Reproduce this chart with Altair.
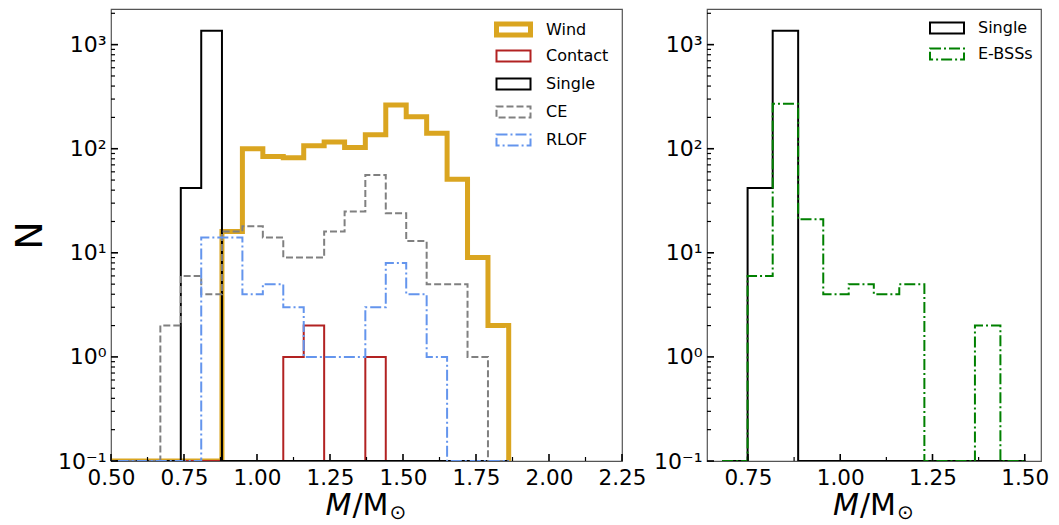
import altair as alt
import pandas as pd

# ---------------- data ----------------
left_edges = [0.458, 0.528, 0.598, 0.669, 0.739, 0.809, 0.880, 0.950, 1.020, 1.090, 1.160,
              1.230, 1.300, 1.371, 1.441, 1.511, 1.581, 1.651, 1.721, 1.791, 1.862]
wind = [0, 0, 0, 0, 0, 0, 16, 100, 84, 82, 107, 116, 103, 136, 263, 203, 141, 51, 9, 2]
contact = [0, 0, 0, 0, 0, 0, 0, 0, 0, 1, 2, 0, 0, 1, 0, 0, 0, 0, 0, 0]
single_left = [0, 0, 0, 0, 42, 1360, 0, 0, 0, 0, 0, 0, 0, 0, 0, 0, 0, 0, 0, 0]
ce = [0, 0, 0, 2, 6, 4, 16, 18, 14, 9, 9, 16, 25, 56, 24, 13, 5, 5, 1, 0]
rlof = [0, 0, 0, 0, 0, 14, 14, 4, 5, 3, 1, 1, 1, 3, 8, 4, 1, 0, 0, 0]

right_edges = [0.680, 0.749, 0.817, 0.886, 0.954, 1.023, 1.091, 1.160, 1.228, 1.297, 1.365, 1.434, 1.502]
single_right = [0, 42, 1360, 0, 0, 0, 0, 0, 0, 0, 0, 0]
ebss = [0, 6, 270, 21, 4, 5, 4, 5, 0, 0, 2, 0]

left_names = ["Wind", "Contact", "Single", "CE", "RLOF"]
right_names = ["Single", "E-BSSs"]

x_major_left = [0.50, 0.75, 1.00, 1.25, 1.50, 1.75, 2.00, 2.25]
x_major_right = [0.75, 1.00, 1.25, 1.50]
y_major = [0.1, 1, 10, 100, 1000]

FLOOR = 0.1


def step_rows(edges, counts, name):
    rows = [{"series": name, "m": edges[0], "n": FLOOR, "o": 0}]
    for i, c in enumerate(counts):
        v = c if c > 0 else FLOOR
        rows.append({"series": name, "m": edges[i], "n": v, "o": 2 * i + 1})
        rows.append({"series": name, "m": edges[i + 1], "n": v, "o": 2 * i + 2})
    rows.append({"series": name, "m": edges[-1], "n": FLOOR, "o": 2 * len(counts) + 1})
    return rows


left_rows = []
for nm, cnt in zip(left_names, [wind, contact, single_left, ce, rlof]):
    left_rows += step_rows(left_edges, cnt, nm)
left_df = pd.DataFrame(left_rows)

right_rows = []
for nm, cnt in zip(right_names, [single_right, ebss]):
    right_rows += step_rows(right_edges, cnt, nm)
right_df = pd.DataFrame(right_rows)

# minor tick values
x_minor_left = [a + 0.125 for a in x_major_left[:-1]]
x_minor_right = [0.875, 1.125, 1.375]
y_minor = [k * d for d in [0.1, 1, 10, 100, 1000] for k in range(2, 10) if k * d <= 2200]

FONT = "DejaVu Sans"
H = 452
W_L = 511
W_R = 334
GAP = 85
Y_DOMAIN = [0.1, 2200]

# wide outline rectangle used as legend symbol (drawn larger than its nominal size)
RECT = "M-2.43,-0.79H2.43V0.79H-2.43Z"

LABEL_EXPR = ("datum.value < 0.5 ? '10⁻¹' : datum.value < 5 ? '10⁰' : "
              "datum.value < 50 ? '10¹' : datum.value < 500 ? '10²' : '10³'")


def panel(df, names, colors, dashes, widths, xdom, xmaj, xmin, width, legend_x, row_pad,
          show_ytitle):
    xs = alt.Scale(domain=xdom, nice=False, zero=False)
    ys = alt.Scale(type="log", domain=Y_DOMAIN, nice=False)
    xax = alt.Axis(values=xmaj, format=".2f", ticks=False, domain=False, grid=False,
                   labelFontSize=21.5, labelPadding=6, labelColor="black",
                   labelFlush=False, title=None)
    yax = alt.Axis(values=y_major, ticks=False, domain=False, grid=False,
                   labelFontSize=22, labelPadding=5, labelColor="black",
                   labelExpr=LABEL_EXPR,
                   title="N" if show_ytitle else None,
                   titleFontSize=38, titleFontWeight="normal", titleColor="black",
                   titlePadding=8)

    lines = alt.Chart(df).mark_line(clip=True, strokeJoin="miter", strokeCap="butt").encode(
        x=alt.X("m:Q", scale=xs, axis=xax),
        y=alt.Y("n:Q", scale=ys, axis=yax),
        color=alt.Color("series:N", scale=alt.Scale(domain=names, range=colors),
                        legend=alt.Legend(title=None, orient="none", legendX=legend_x, legendY=11,
                                          symbolType=RECT, symbolSize=196, labelFontSize=16,
                                          labelOffset=23, rowPadding=row_pad, gridAlign="all",
                                          labelColor="black",
                                          symbolFillColor="transparent", padding=0)),
        strokeDash=alt.StrokeDash("series:N", scale=alt.Scale(domain=names, range=dashes),
                                  legend=alt.Legend(title=None)),
        strokeWidth=alt.StrokeWidth("series:N",
                                    scale=alt.Scale(type="ordinal", domain=names, range=widths),
                                    legend=alt.Legend(title=None)),
        order="o:Q",
    )

    xmaj_df = pd.DataFrame({"m": xmaj})
    xmin_df = pd.DataFrame({"m": xmin})
    ymaj_df = pd.DataFrame({"n": y_major})
    ymin_df = pd.DataFrame({"n": y_minor})

    xt1 = alt.Chart(xmaj_df).mark_rule(color="black", strokeWidth=1.6).encode(
        x=alt.X("m:Q", scale=xs, axis=xax), y=alt.value(H), y2=alt.value(H - 7))
    xt2 = alt.Chart(xmin_df).mark_rule(color="black", strokeWidth=1.2).encode(
        x=alt.X("m:Q", scale=xs, axis=xax), y=alt.value(H), y2=alt.value(H - 4))
    yt1 = alt.Chart(ymaj_df).mark_rule(color="black", strokeWidth=1.6).encode(
        y=alt.Y("n:Q", scale=ys, axis=yax), x=alt.value(0), x2=alt.value(7))
    yt2 = alt.Chart(ymin_df).mark_rule(color="black", strokeWidth=1.2).encode(
        y=alt.Y("n:Q", scale=ys, axis=yax), x=alt.value(0), x2=alt.value(4))

    dummy = pd.DataFrame({"a": [0]})
    cx = width / 2
    t1 = alt.Chart(dummy).mark_text(text="M", font=FONT, fontSize=30, fontStyle="italic",
                                    align="left", baseline="alphabetic", color="black").encode(
        x=alt.value(cx - 41), y=alt.value(H + 54))
    t2 = alt.Chart(dummy).mark_text(text="/M", font=FONT, fontSize=30,
                                    align="left", baseline="alphabetic", color="black").encode(
        x=alt.value(cx - 14), y=alt.value(H + 54))
    t3 = alt.Chart(dummy).mark_text(text="⊙", font=FONT, fontSize=20,
                                    align="left", baseline="alphabetic", color="black").encode(
        x=alt.value(cx + 23), y=alt.value(H + 58))

    return alt.layer(lines, xt1, xt2, yt1, yt2, t1, t2, t3).properties(width=width, height=H)


left = panel(left_df, left_names,
             ["#DAA520", "#B22222", "#000000", "#808080", "#6495ED"],
             [[1, 0], [1, 0], [1, 0], [7, 3], [11, 3, 2, 3]],
             [5, 2, 2, 2, 2],
             [0.5, 2.25], x_major_left, x_minor_left, W_L, 393, 0, True)

right = panel(right_df, right_names,
              ["#000000", "#008000"],
              [[1, 0], [11, 3, 2, 3]],
              [2, 2],
              [0.639, 1.544], x_major_right, x_minor_right, W_R, 232, 6, False)

chart = alt.hconcat(left, right, spacing=GAP, bounds="flush").resolve_scale(
    color="independent", strokeDash="independent", strokeWidth="independent", x="independent",
    y="independent"
).properties(
    padding={"left": 2, "top": 0, "right": 0, "bottom": 0},
).configure(font=FONT).configure_view(stroke="#555555", strokeWidth=1.2)

chart.save("out.html", embed_options={"renderer": "svg", "actions": False})
